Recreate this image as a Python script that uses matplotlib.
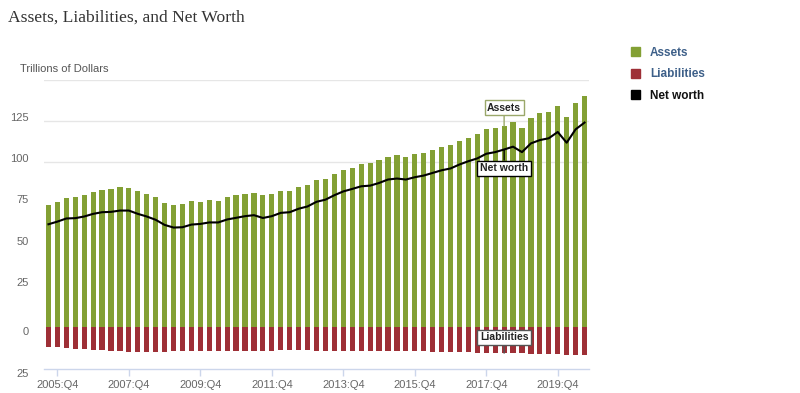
import matplotlib
matplotlib.use("Agg")
import matplotlib.pyplot as plt
import matplotlib.transforms as mtransforms
from matplotlib.patches import Patch

plt.rcParams['font.family'] = ['Liberation Sans', 'DejaVu Sans']

# quarterly, 2005:Q3 .. 2020:Q3 (trillions of dollars)
quarters = [f"{2005 + (q + 2) // 4}:Q{(q + 2) % 4 + 1}" for q in range(61)]

assets = [74.2, 76.0, 78.3, 78.9, 80.3, 81.8, 83.4, 84.0, 85.0, 84.5,
          82.4, 80.7, 78.9, 75.2, 74.1, 74.7, 76.2, 76.1, 77.3, 76.7,
          78.9, 79.9, 80.8, 81.3, 79.9, 80.9, 82.8, 82.8, 85.0, 86.0,
          89.0, 90.1, 92.7, 95.1, 96.6, 99.0, 99.6, 101.6, 103.0, 104.1,
          103.0, 104.7, 105.7, 107.1, 109.1, 110.4, 112.8, 114.9, 116.9, 119.9,
          120.5, 121.9, 124.6, 121.0, 126.6, 129.5, 130.5, 134.1, 127.4, 135.6,
          139.9]

liabilities = [11.8, 11.9, 12.5, 13.0, 13.2, 13.7, 13.8, 14.2, 14.6, 15.1,
               15.2, 15.2, 15.2, 14.8, 14.6, 14.3, 14.2, 14.2, 14.2, 14.2,
               14.2, 14.2, 14.2, 14.1, 14.1, 14.1, 14.0, 14.0, 14.0, 14.0,
               14.1, 14.1, 14.1, 14.1, 14.2, 14.2, 14.2, 14.3, 14.3, 14.4,
               14.4, 14.5, 14.6, 14.7, 14.8, 15.0, 15.1, 15.2, 15.4, 15.5,
               15.6, 15.7, 15.8, 15.9, 16.0, 16.2, 16.3, 16.5, 16.7, 16.9,
               17.0]

net_worth = [62.4, 64.0, 65.9, 66.1, 67.1, 68.7, 69.7, 69.9, 70.7, 70.7,
             68.7, 67.1, 65.1, 62.0, 60.4, 60.6, 62.2, 62.6, 63.5, 63.5,
             65.3, 66.3, 67.3, 67.9, 66.2, 67.3, 69.3, 69.7, 71.8, 73.2,
             76.0, 77.3, 80.0, 82.3, 83.8, 85.4, 85.8, 87.4, 89.5, 90.1,
             89.5, 90.9, 91.9, 93.5, 95.1, 96.2, 98.6, 100.6, 102.3, 105.1,
             106.1, 107.7, 109.4, 106.1, 111.4, 113.4, 114.5, 118.3, 111.8, 119.9,
             124.0]

tick_labels = ['2005:Q4', '2007:Q4', '2009:Q4', '2011:Q4',
               '2013:Q4', '2015:Q4', '2017:Q4', '2019:Q4']
y_ticks = [-25, 0, 25, 50, 75, 100, 125, 150]
y_labels = ['25', '0', '25', '50', '75', '100', '125', '']
grid_vals = [100, 125, 150]

green = '#83A034'
red = '#9E2F36'
grey_txt = '#666666'
axis_col = '#CCD6EB'

fig = plt.figure(figsize=(8, 3.93), dpi=100)
ax = fig.add_axes([0.055, 0.0623, 0.68125, 0.735])

# grid lines behind the bars
for v in grid_vals:
    ax.axhline(v, color='#E6E6E6', lw=1, zorder=0)

x = list(range(len(quarters)))
ax.bar(x, assets, width=0.58, color=green, zorder=2)
ax.bar(x, [-v for v in liabilities], width=0.58, color=red, zorder=2)
ax.plot(x, net_worth, color='black', lw=1.5, zorder=3)

ax.set_xlim(-0.5, len(quarters) - 0.5)
ax.set_ylim(-25, 150)

ax.set_yticks(y_ticks)
ax.set_yticklabels(y_labels)
ax.tick_params(axis='y', length=0, pad=11, labelsize=8, labelcolor=grey_txt)
for lab, v in zip(ax.get_yticklabels(), y_ticks):
    dy = 4 if v > 0 else -4
    lab.set_transform(lab.get_transform() +
                      mtransforms.ScaledTranslation(0, dy / 100, fig.dpi_scale_trans))

ax.set_xticks([quarters.index(t) for t in tick_labels])
ax.set_xticklabels(tick_labels)
ax.tick_params(axis='x', length=5, width=1, color=axis_col, pad=3,
               labelsize=8, labelcolor=grey_txt)

for s in ['top', 'right', 'left']:
    ax.spines[s].set_visible(False)
ax.spines['bottom'].set_color(axis_col)
ax.spines['bottom'].set_linewidth(1)

# data labels at 2018:Q2
k = 51
ax.annotate('Assets', xy=(k, assets[k]), xytext=(k, 133), ha='center', va='center',
            fontsize=7.5, fontweight='bold', color='#222222', zorder=5,
            bbox=dict(boxstyle='square,pad=0.25', fc='white', ec='#9AA86A', lw=1),
            arrowprops=dict(arrowstyle='-', color='#9AA86A', lw=1, shrinkA=0, shrinkB=0))
ax.annotate('Net worth', xy=(k, net_worth[k]), xytext=(k, 96.4), ha='center', va='center',
            fontsize=7.5, fontweight='bold', color='#222222', zorder=5,
            bbox=dict(boxstyle='square,pad=0.25', fc='white', ec='black', lw=1),
            arrowprops=dict(arrowstyle='-', color='black', lw=1, shrinkA=0, shrinkB=0))
ax.annotate('Liabilities', xy=(k, -liabilities[k]), xytext=(k, -6), ha='center', va='center',
            fontsize=7.5, fontweight='bold', color='#222222', zorder=5,
            bbox=dict(boxstyle='square,pad=0.25', fc='white', ec='#555555', lw=1),
            arrowprops=dict(arrowstyle='-', color='#555555', lw=1, shrinkA=0, shrinkB=0))

fig.text(8 / 800, 1 - 18 / 393, 'Assets, Liabilities, and Net Worth', family='Liberation Serif',
         fontsize=12.6, color='#333333', va='center', ha='left')
fig.text(20 / 800, 1 - 69 / 393, 'Trillions of Dollars', fontsize=8, color='#555555',
         va='center', ha='left')

handles = [Patch(color=green), Patch(color=red), Patch(color='black')]
leg = fig.legend(handles, ['Assets', 'Liabilities', 'Net worth'], loc='upper left',
                 bbox_to_anchor=(631 / 800, 1 - 47 / 393), frameon=False,
                 handlelength=0.8, handleheight=0.8, handletextpad=0.8,
                 labelspacing=0.8, borderpad=0, borderaxespad=0,
                 prop={'size': 8.5, 'weight': 'bold'})
for t, c in zip(leg.get_texts(), ['#3E6089', '#3E6089', '#111111']):
    t.set_color(c)

fig.savefig('out.png', dpi=100)
